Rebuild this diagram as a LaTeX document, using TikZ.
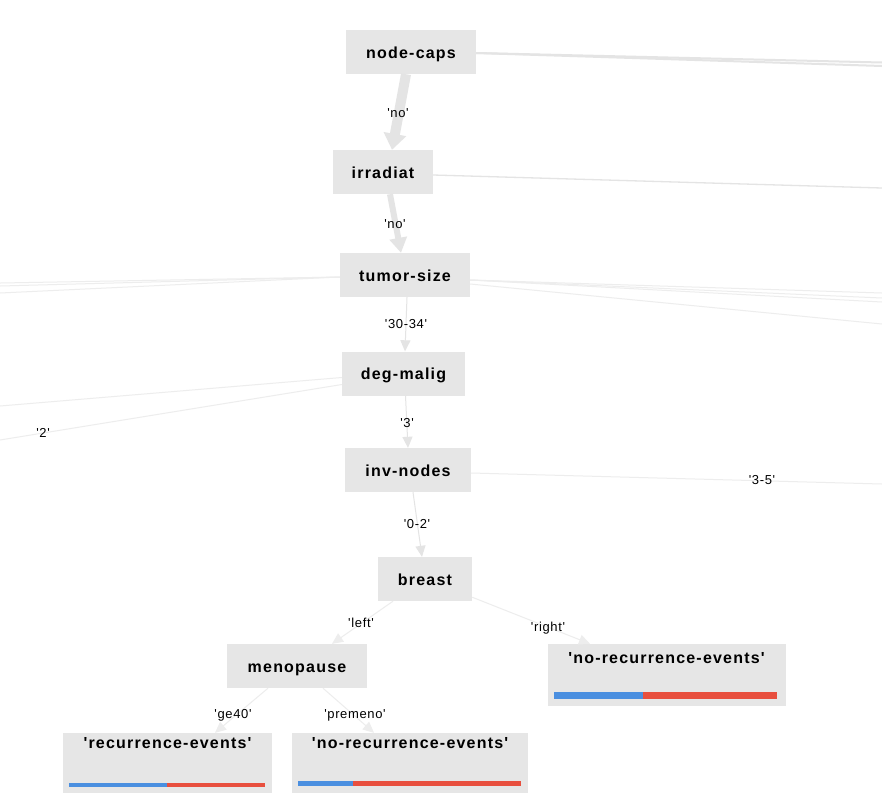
\documentclass[tikz,border=0pt]{standalone}
\usepackage{fontspec}
\setmainfont{Liberation Sans}
\newfontfamily\nodefont[LetterSpace=7.5]{Liberation Sans}
\newfontfamily\edgefont[LetterSpace=5]{Liberation Sans}
\usetikzlibrary{arrows.meta,calc}

\definecolor{boxgray}{HTML}{E6E6E6}
\definecolor{edgegray}{HTML}{E4E4E4}
\definecolor{thingray}{HTML}{EDEDED}
\definecolor{barblue}{HTML}{4A8FE0}
\definecolor{barred}{HTML}{E84F3E}

\tikzset{
  split/.style={fill=boxgray, inner sep=0pt, minimum height=44pt,
    text height=12.6pt, text depth=0pt,
    font=\nodefont\fontsize{16}{18}\selectfont\bfseries},
  leafbox/.style={fill=boxgray, inner sep=0pt},
  leaftext/.style={inner sep=0pt, anchor=base,
    font=\nodefont\fontsize{16}{18}\selectfont\bfseries},
  elabel/.style={inner sep=1pt, font=\edgefont\fontsize{13}{15}\selectfont},
  heavy/.style={draw=edgegray, line width=#1},
  thinedge/.style={draw=thingray, line width=1pt},
  tipped/.style={-{Triangle[width=10pt,length=11pt]}, draw=edgegray, line width=1pt},
}

\begin{document}
\begin{tikzpicture}[x=1pt, y=-1pt]
\useasboundingbox[fill=white] (0,0) rectangle (882,804);

% branches running off the drawing area
\coordinate (ncR1) at (882,62.5);
\coordinate (ncR2) at (882,66);
\coordinate (irR) at (882,188);
\coordinate (tsL1) at (0,283);
\coordinate (tsL2) at (0,286);
\coordinate (tsL3) at (0,293);
\coordinate (tsR1) at (882,293);
\coordinate (tsR2) at (882,298);
\coordinate (tsR3) at (882,302);
\coordinate (tsR4) at (882,324);
\coordinate (dmL1) at (0,406);
\coordinate (dmL2) at (0,440);
\coordinate (inR) at (882,484);

% split nodes
\node[split, minimum width=130pt] (nc) at (411,52) {node-caps};
\node[split, minimum width=100pt] (ir) at (383,172) {irradiat};
\node[split, minimum width=130pt] (ts) at (405,275) {tumor-size};
\node[split, minimum width=123pt] (dm) at (403.5,373.5) {deg-malig};
\node[split, minimum width=126pt] (in) at (408,470) {inv-nodes};
\node[split, minimum width=94pt] (br) at (425,579) {breast};
\node[split, minimum width=140pt] (mp) at (297,666) {menopause};

% leaves
\node[leafbox, minimum width=238pt, minimum height=62pt] (lfR) at (666.5,675) {};
\node[leafbox, minimum width=209pt, minimum height=60pt] (lfA) at (167.5,763) {};
\node[leafbox, minimum width=236pt, minimum height=60pt] (lfB) at (410,763) {};
\node[leaftext] (lfRt) at ([yshift=-19.3pt]lfR.north) {'no-recurrence-events'};
\node[leaftext] (lfAt) at ([yshift=-15.8pt]lfA.north) {'recurrence-events'};
\node[leaftext] (lfBt) at ([yshift=-15.8pt]lfB.north) {'no-recurrence-events'};

% class distribution bars
\fill[barblue] (554,692) rectangle (643,699);
\fill[barred] (643,692) rectangle (777,699);
\fill[barblue] (69,783) rectangle (167,786.5);
\fill[barred] (167,783) rectangle (265,786.5);
\fill[barblue] (298,781) rectangle (353,786);
\fill[barred] (353,781) rectangle (521,786);

% off-page branches
\draw[heavy=2pt] ([yshift=-1pt]nc.east) -- (ncR1);
\draw[heavy=2pt] ([yshift=-1pt]nc.east) -- (ncR2);
\draw[heavy=1.3pt] ([yshift=-3pt]ir.east) -- (irR);
\draw[thinedge] ([yshift=-2pt]ts.west) -- (tsL1);
\draw[thinedge] ([yshift=-2pt]ts.west) -- (tsL2);
\draw[thinedge] ([yshift=-2pt]ts.west) -- (tsL3);
\draw[thinedge] ([yshift=-5pt]ts.east) -- (tsR1);
\draw[thinedge] ([yshift=-5pt]ts.east) -- (tsR2);
\draw[thinedge] ([yshift=-5pt]ts.east) -- (tsR3);
\draw[thinedge] ([yshift=-9pt]ts.east) -- (tsR4);
\draw[thinedge] ([yshift=-4pt]dm.west) -- (dmL1);
\draw[thinedge] ([yshift=-11pt]dm.west) -- (dmL2);
\draw[thinedge] ([yshift=-3pt]in.east) -- (inR);

% followed path
\draw[draw=edgegray, line width=10pt, -{Triangle[width=22pt,length=16pt]}]
  ([xshift=-5pt]nc.south) -- ([xshift=9pt]ir.north);
\draw[draw=edgegray, line width=6pt, -{Triangle[width=17pt,length=15pt]}]
  ([xshift=7pt]ir.south) -- ([xshift=-4pt]ts.north);
\draw[tipped] ([xshift=2pt]ts.south) -- ([xshift=1.5pt]dm.north);
\draw[tipped] ([xshift=2pt]dm.south) -- (in.north);
\draw[tipped] ([xshift=5pt]in.south) -- ([xshift=-3pt]br.north);
\draw[tipped, draw=thingray] ([xshift=-32pt]br.south) -- ([xshift=35pt]mp.north);
\draw[tipped, draw=thingray] ([yshift=4pt]br.south east) -- ([xshift=-76.5pt]lfR.north);
\draw[tipped, draw=thingray] ([xshift=-29pt]mp.south) -- ([xshift=47.5pt]lfA.north);
\draw[tipped, draw=thingray] ([xshift=26pt]mp.south) -- ([xshift=-36pt]lfB.north);

% edge labels
\node[elabel] (l1) at (398,113) {'no'};
\node[elabel] (l2) at (395,224) {'no'};
\node[elabel] (l3) at (406,324) {'30-34'};
\node[elabel] (l4) at (407,423) {'3'};
\node[elabel] (l5) at (43,433) {'2'};
\node[elabel] (l6) at (417,524) {'0-2'};
\node[elabel] (l7) at (762,480) {'3-5'};
\node[elabel] (l8) at (361,623) {'left'};
\node[elabel] (l9) at (548,628) {'right'};
\node[elabel] (l10) at (233,715) {'ge40'};
\node[elabel] (l11) at (355,715) {'premeno'};
\end{tikzpicture}
\end{document}
